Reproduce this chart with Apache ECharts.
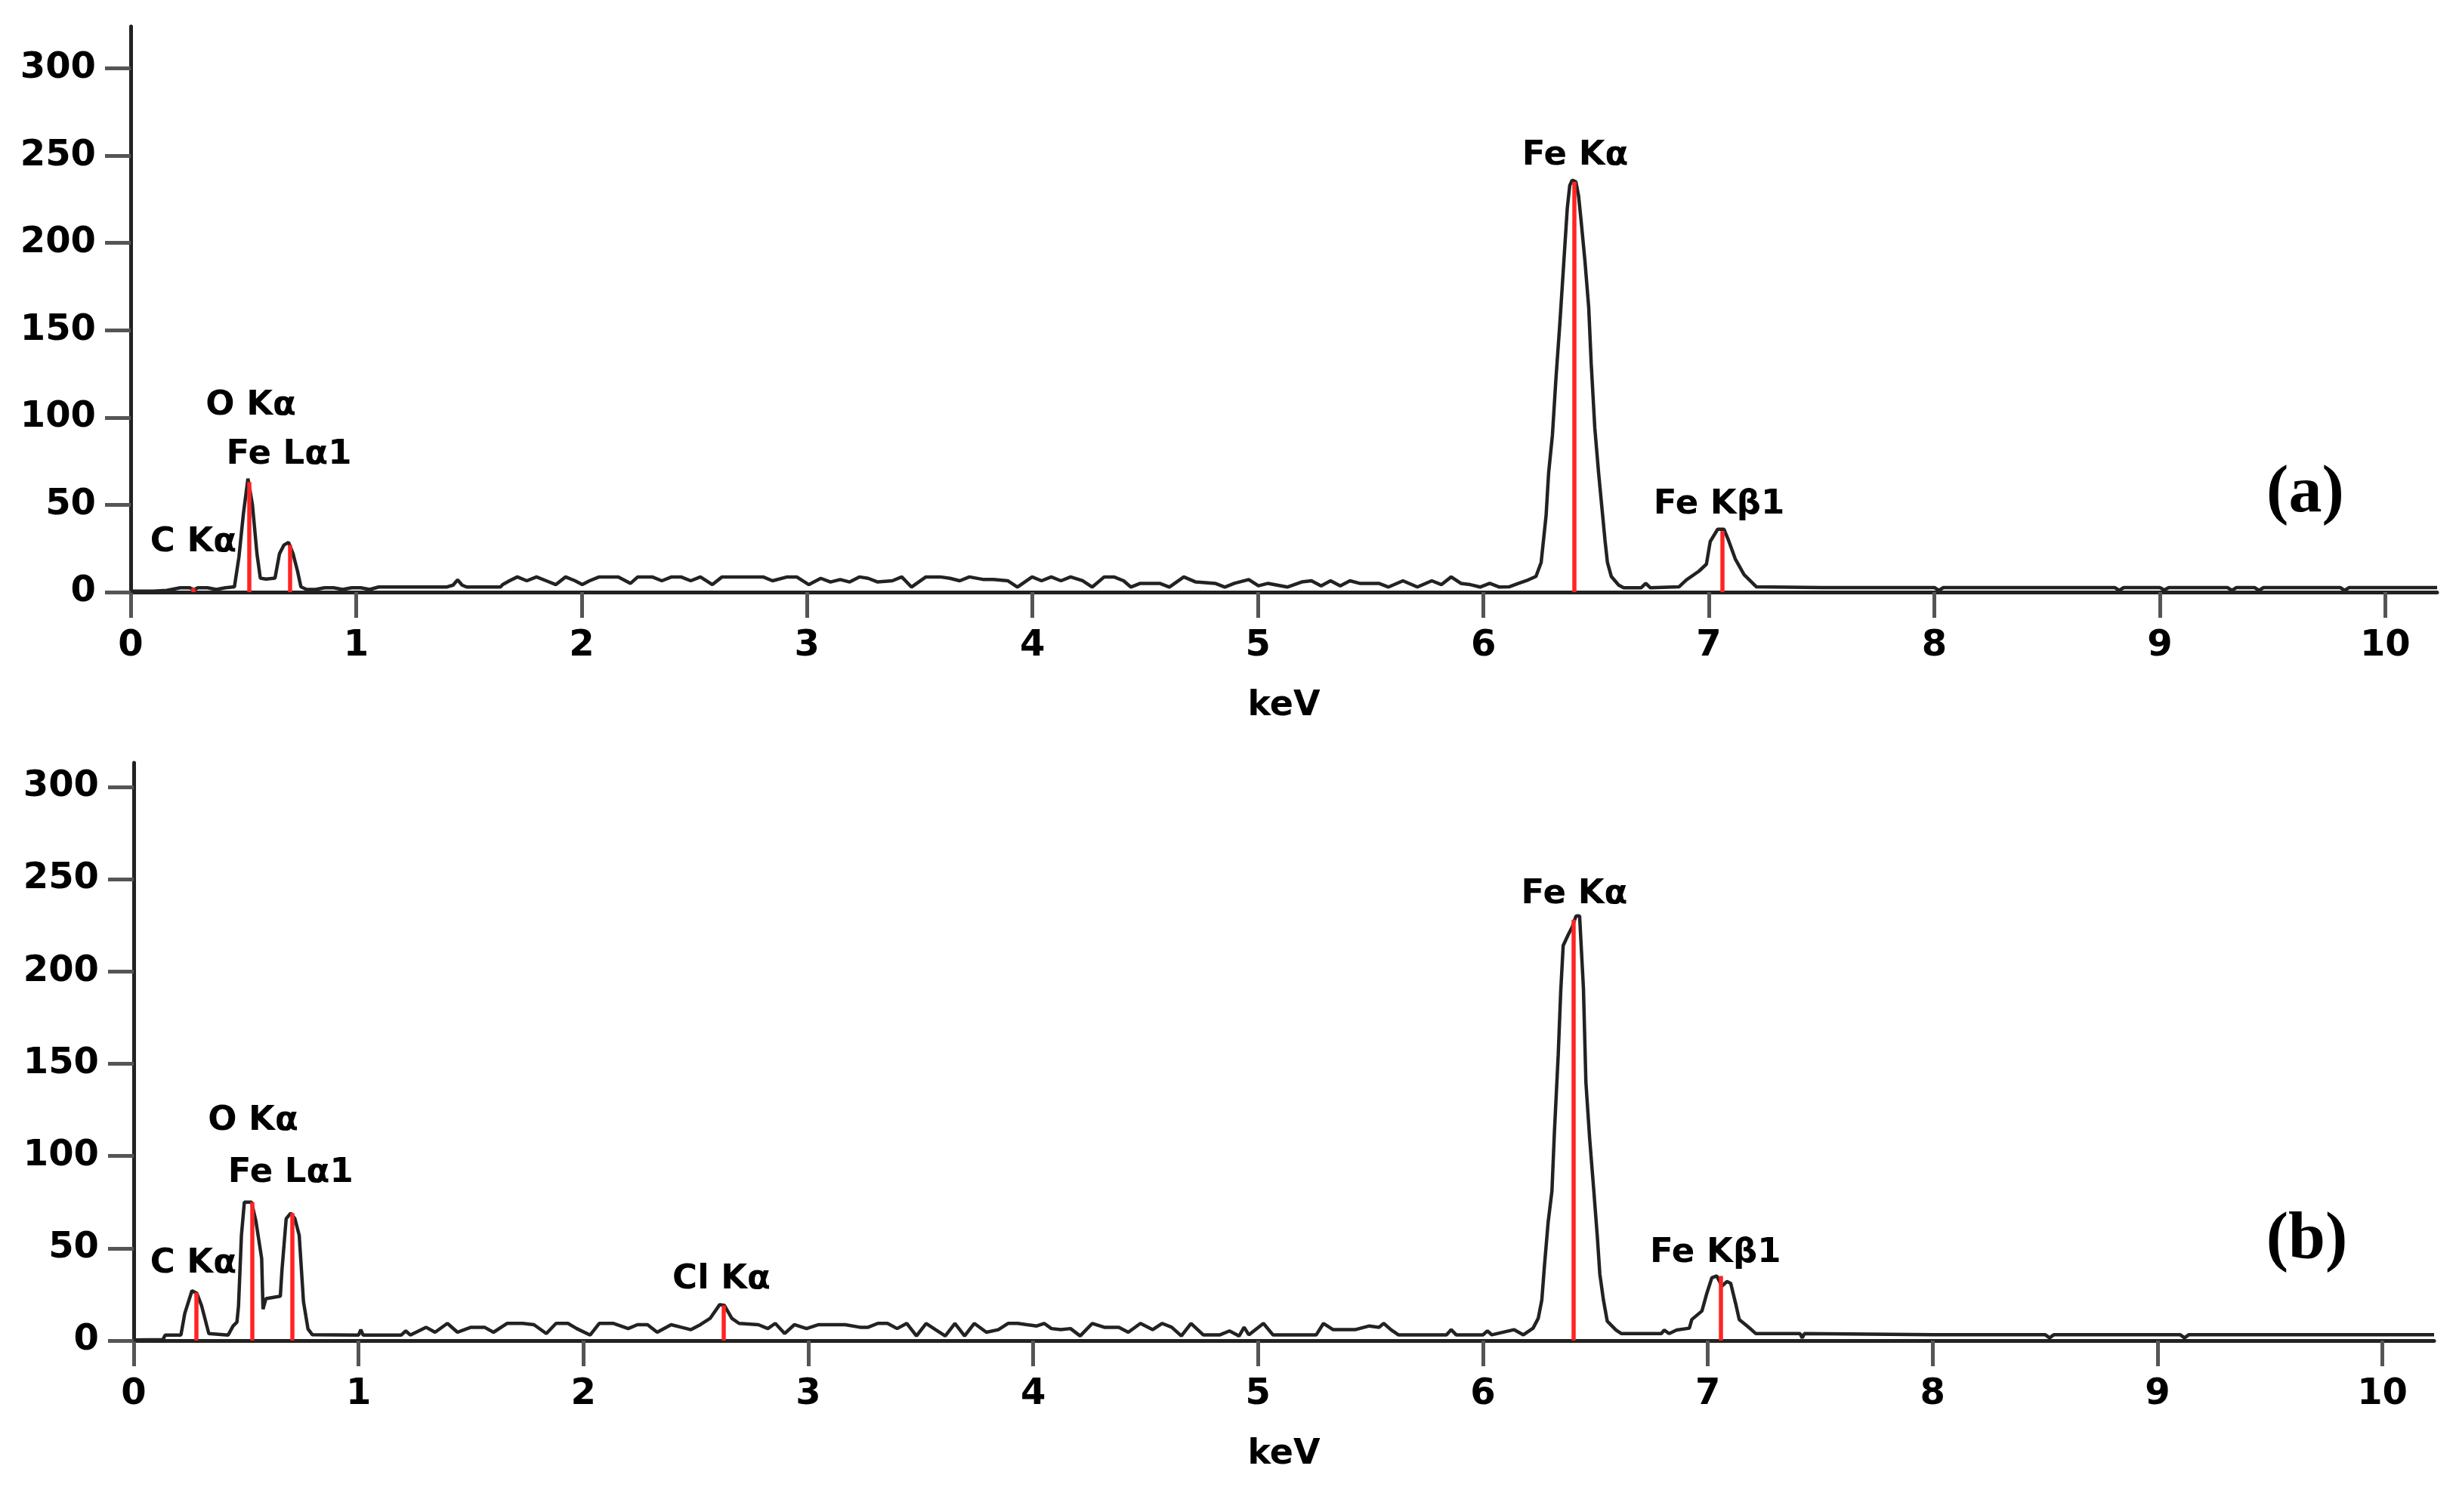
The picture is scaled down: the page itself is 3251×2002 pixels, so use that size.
<!DOCTYPE html>
<html>
<head>
<meta charset="utf-8">
<script src="https://cdn.jsdelivr.net/npm/echarts@6/dist/echarts.min.js"></script>
<style>
html,body{margin:0;padding:0;background:#fff;}
#chart{width:3251px;height:2002px;}
</style>
</head>
<body>
<div id="chart"></div>
<script>
// ---------- data ----------
const xTickValues = [0,1,2,3,4,5,6,7,8,9,10];
const yTickValues = [0,50,100,150,200,250,300];

// Spectrum (a): [keV, counts]
const spectrumA = [
[0.00,0.5],[0.10,0.5],[0.16,1],[0.22,2.5],[0.26,2.5],[0.28,1.5],[0.30,2.5],[0.34,2.5],[0.38,1.5],[0.42,2.5],
[0.46,3],[0.48,20],[0.50,45],[0.52,65],[0.54,50],[0.56,22],[0.575,8],[0.60,7.5],[0.64,8],[0.66,22],
[0.68,27],[0.70,28.5],[0.72,22],[0.74,12],[0.755,3],[0.78,1.5],[0.82,1.5],[0.86,2.5],[0.90,2.5],[0.94,1.5],
[0.98,2.5],[1.02,2.5],[1.06,1.5],[1.10,2.9],[1.40,2.9],[1.43,4],[1.45,7],[1.47,4],[1.49,2.9],[1.64,2.9],
[1.65,4.3],[1.68,6.5],[1.715,8.7],[1.757,6.5],[1.80,8.7],[1.843,6.5],[1.886,4.3],[1.929,8.7],[1.971,6.5],[2.003,4.3],
[2.035,6.5],[2.078,8.7],[2.163,8.7],[2.217,5.0],[2.249,8.7],[2.313,8.7],[2.356,6.5],[2.399,8.7],[2.441,8.7],[2.484,6.5],
[2.527,8.7],[2.58,4.3],[2.623,8.7],[2.677,8.7],[2.805,8.7],[2.847,6.5],[2.912,8.7],[2.954,8.7],[3.008,4.3],[3.061,7.9],
[3.104,5.8],[3.147,7.2],[3.189,5.8],[3.232,8.7],[3.271,7.9],[3.313,5.8],[3.378,6.5],[3.42,8.7],[3.463,2.9],[3.527,8.7],
[3.591,8.7],[3.634,7.9],[3.677,6.5],[3.72,8.7],[3.784,7.2],[3.827,7.2],[3.89,6.5],[3.933,2.9],[3.998,8.7],[4.04,6.5],
[4.083,8.7],[4.126,6.5],[4.169,8.7],[4.222,6.5],[4.265,2.9],[4.318,8.7],[4.361,8.7],[4.404,6.5],[4.436,2.9],[4.478,5.0],
[4.564,5.0],[4.607,2.9],[4.671,8.7],[4.724,5.8],[4.81,5.0],[4.853,2.9],[4.895,5.0],[4.959,7.2],[5.002,3.6],[5.045,5.0],
[5.13,2.9],[5.194,5.8],[5.237,6.5],[5.28,3.6],[5.322,6.5],[5.365,3.6],[5.408,6.5],[5.451,5.0],[5.536,5.0],[5.579,2.9],
[5.643,6.5],[5.707,2.9],[5.771,6.5],[5.814,4.3],[5.857,8.7],[5.90,5.0],[5.942,4.3],[5.985,2.9],[6.028,5.0],[6.071,2.9],
[6.113,3],[6.156,5.0],[6.199,7],[6.233,9],[6.256,17],[6.278,44],[6.289,68],[6.306,90],[6.322,123],[6.339,154],
[6.356,188],[6.372,220],[6.383,233],[6.394,236],[6.41,235],[6.422,227],[6.433,213],[6.45,190],[6.467,163],[6.478,131],
[6.494,94],[6.511,68],[6.528,45],[6.539,30],[6.55,17],[6.567,9],[6.60,4],[6.622,2.5],[6.70,2.5],[6.72,5],
[6.74,2.5],[6.867,3],[6.90,7],[6.956,12],[6.989,16],[7.006,29],[7.039,36],[7.067,36],[7.089,29],[7.117,19],
[7.156,10],[7.211,3],[7.50,2.6],[8.00,2.6],[8.02,1],[8.04,2.6],[8.80,2.6],[8.82,1],[8.84,2.6],[9.00,2.6],
[9.02,1.2],[9.04,2.6],[9.30,2.6],[9.32,1],[9.34,2.6],[9.42,2.6],[9.44,1],[9.46,2.6],[9.80,2.6],[9.82,1],
[9.84,2.6],[10.23,2.6]
];

// Spectrum (b): [keV, counts]
const spectrumB = [
[0.00,0.3],[0.13,0.5],[0.14,3],[0.21,3],[0.227,14.7],[0.259,27],[0.281,25.6],[0.302,18.8],[0.334,3.8],[0.42,3],
[0.442,7.9],[0.459,10],[0.466,18.6],[0.479,57],[0.492,75],[0.524,75],[0.543,65],[0.569,44.5],[0.575,17],[0.588,22.7],
[0.652,24],[0.659,37.7],[0.678,66],[0.698,69],[0.717,66],[0.736,57],[0.755,21],[0.775,6.3],[0.794,3.2],[1.00,3],
[1.01,5.9],[1.02,3],[1.19,3],[1.21,5.2],[1.23,3],[1.30,7.2],[1.34,4.5],[1.395,9.3],[1.44,4.5],[1.47,5.9],
[1.50,7.2],[1.56,7.2],[1.60,4.5],[1.66,9.3],[1.73,9.3],[1.78,8.6],[1.835,3.8],[1.878,9.3],[1.931,9.3],[1.97,6.5],
[2.03,3],[2.07,9.3],[2.134,9.3],[2.199,6.5],[2.24,8.6],[2.285,8.6],[2.328,4.5],[2.39,8.6],[2.435,7.2],[2.478,5.9],
[2.52,8.6],[2.563,12],[2.606,19.5],[2.627,19],[2.66,12],[2.692,9.3],[2.778,8.6],[2.82,6.5],[2.853,9.3],[2.895,3.8],
[2.938,8.6],[2.992,6.5],[3.046,8.6],[3.10,8.6],[3.164,8.6],[3.23,7.2],[3.266,7.2],[3.309,9.3],[3.352,9.3],[3.395,6.5],
[3.438,9.3],[3.481,2.5],[3.524,9.3],[3.566,5.9],[3.609,2.5],[3.652,9.3],[3.695,2.5],[3.738,9.3],[3.792,4.5],[3.845,5.9],
[3.888,9.3],[3.931,9.3],[3.973,8.6],[4.016,7.9],[4.049,9.3],[4.081,6.5],[4.123,5.9],[4.166,6.5],[4.209,2.5],[4.263,9.3],
[4.316,7.2],[4.381,7.2],[4.423,4.5],[4.477,9.3],[4.531,5.9],[4.573,9.3],[4.616,7.2],[4.659,2.5],[4.702,9.3],[4.756,3.1],
[4.831,3.1],[4.873,5.2],[4.916,2.5],[4.938,7.2],[4.959,3.1],[5.024,9.3],[5.066,3.1],[5.259,3.1],[5.291,9.3],[5.334,5.9],
[5.388,5.9],[5.431,5.9],[5.495,7.9],[5.538,7.2],[5.559,9.3],[5.591,5.9],[5.624,3.1],[5.838,3.1],[5.859,5.9],[5.881,3.1],
[6.00,3.1],[6.02,5.2],[6.04,3.1],[6.138,5.9],[6.18,3.1],[6.223,6.7],[6.246,12],[6.262,22],[6.274,41],[6.29,64],
[6.307,81],[6.318,113],[6.335,155],[6.346,189],[6.357,214],[6.38,220],[6.397,224],[6.414,230],[6.43,230],[6.447,191],
[6.458,140],[6.475,109],[6.492,83],[6.509,56],[6.52,36],[6.536,22],[6.553,10.5],[6.592,5.7],[6.615,3.8],[6.794,3.8],
[6.806,5.7],[6.828,3.8],[6.862,5.7],[6.918,6.7],[6.929,11.4],[6.974,16],[6.996,25.7],[7.018,34],[7.04,35],[7.063,29.5],
[7.085,32],[7.102,31],[7.124,20],[7.14,11.4],[7.168,8.6],[7.196,5.7],[7.213,3.8],[7.41,3.8],[7.42,1.5],[7.43,3.8],
[8.00,3.2],[8.50,3.2],[8.52,1.5],[8.54,3.2],[9.10,3.2],[9.12,1.5],[9.14,3.2],[9.70,3.2],[10.23,3.2]
];

// Line markers (energy, height)
const markersA = [[0.277,2.5],[0.525,63],[0.705,27],[6.404,235],[7.058,35]];
const markersB = [[0.277,26],[0.525,75],[0.705,69],[2.622,19],[6.404,228],[7.058,35]];

// Peak annotations: name + anchor (keV, counts)
const namesA = ['C Kα','O Kα','Fe Lα1','Fe Kα','Fe Kβ1'];
const anchorsA = [[0.278,28.6],[0.533,106.7],[0.702,78.8],[6.407,249.8],[7.045,50.2]];
const namesB = ['C Kα','O Kα','Fe Lα1','Cl Kα','Fe Kα','Fe Kβ1'];
const anchorsB = [[0.265,41.7],[0.531,118.9],[0.698,90.7],[2.614,33.1],[6.407,241.5],[7.034,47.4]];

const panelTags = ['(a)','(b)'];
const panelTagAnchors = [[9.645,56],[9.664,54]];

// ---------- chart ----------
const chart = echarts.init(document.getElementById('chart'), null, {renderer:'canvas'});
const FONT = 'DejaVu Sans';

function xAxisCfg(gridIndex){
  return {
    type:'value', gridIndex, min:0, max:10.23,
    name:'keV', nameLocation:'middle', nameGap:128,
    nameTextStyle:{fontFamily:FONT,fontWeight:'bold',fontSize:46,color:'#000'},
    axisLine:{show:true,onZero:false,lineStyle:{color:'#222',width:5}},
    axisTick:{show:true,length:34,lineStyle:{color:'#555',width:5},customValues:xTickValues},
    axisLabel:{show:true,margin:48,fontFamily:FONT,fontWeight:'bold',fontSize:48,color:'#000',customValues:xTickValues},
    splitLine:{show:false}
  };
}
function yAxisCfg(gridIndex,max){
  return {
    type:'value', gridIndex, min:0, max:max,
    axisLine:{show:true,onZero:false,lineStyle:{color:'#222',width:5}},
    axisTick:{show:true,length:34,lineStyle:{color:'#555',width:5},customValues:yTickValues},
    axisLabel:{show:true,margin:46,fontFamily:FONT,fontWeight:'bold',fontSize:48,color:'#000',customValues:yTickValues},
    splitLine:{show:false}
  };
}
function spectrumSeries(idx,data,markers){
  return {
    type:'line', xAxisIndex:idx, yAxisIndex:idx, data:data, showSymbol:false, symbol:'none',
    lineStyle:{color:'#222',width:4.5}, silent:true, z:2,
    markLine:{
      silent:true, symbol:['none','none'], animation:false,
      label:{show:false},
      lineStyle:{color:'#ff2424',width:5.5,type:'solid',opacity:1},
      emphasis:{disabled:true},
      data: markers.map(m => [{coord:[m[0],0]},{coord:[m[0],m[1]]}])
    }
  };
}
function labelSeries(idx,names,anchors,tag,tagAnchor){
  const d = names.map((n,i)=>({name:n,value:anchors[i]}));
  d.push({name:tag,value:tagAnchor,label:{fontFamily:'Liberation Serif',fontSize:88,fontWeight:'bold'}});
  return {
    type:'scatter', xAxisIndex:idx, yAxisIndex:idx, symbol:'circle', symbolSize:2, silent:true, z:5,
    itemStyle:{color:'rgba(255,255,255,0)'},
    label:{show:true,position:'inside',formatter:'{b}',fontFamily:FONT,fontWeight:'bold',fontSize:45,
           color:'#000',opacity:1,textBorderWidth:0,textBorderColor:'rgba(0,0,0,0)',textShadowBlur:0},
    labelLayout:{hideOverlap:false},
    data:d
  };
}

chart.setOption({
  animation:false,
  backgroundColor:'#fff',
  grid:[
    {left:173,right:25,top:35,bottom:1218,containLabel:false},
    {left:177,right:29,top:1010,bottom:227,containLabel:false}
  ],
  xAxis:[xAxisCfg(0),xAxisCfg(1)],
  yAxis:[yAxisCfg(0,324),yAxisCfg(1,313)],
  series:[
    spectrumSeries(0,spectrumA,markersA),
    spectrumSeries(1,spectrumB,markersB),
    labelSeries(0,namesA,anchorsA,panelTags[0],panelTagAnchors[0]),
    labelSeries(1,namesB,anchorsB,panelTags[1],panelTagAnchors[1])
  ]
});
</script>
</body>
</html>
